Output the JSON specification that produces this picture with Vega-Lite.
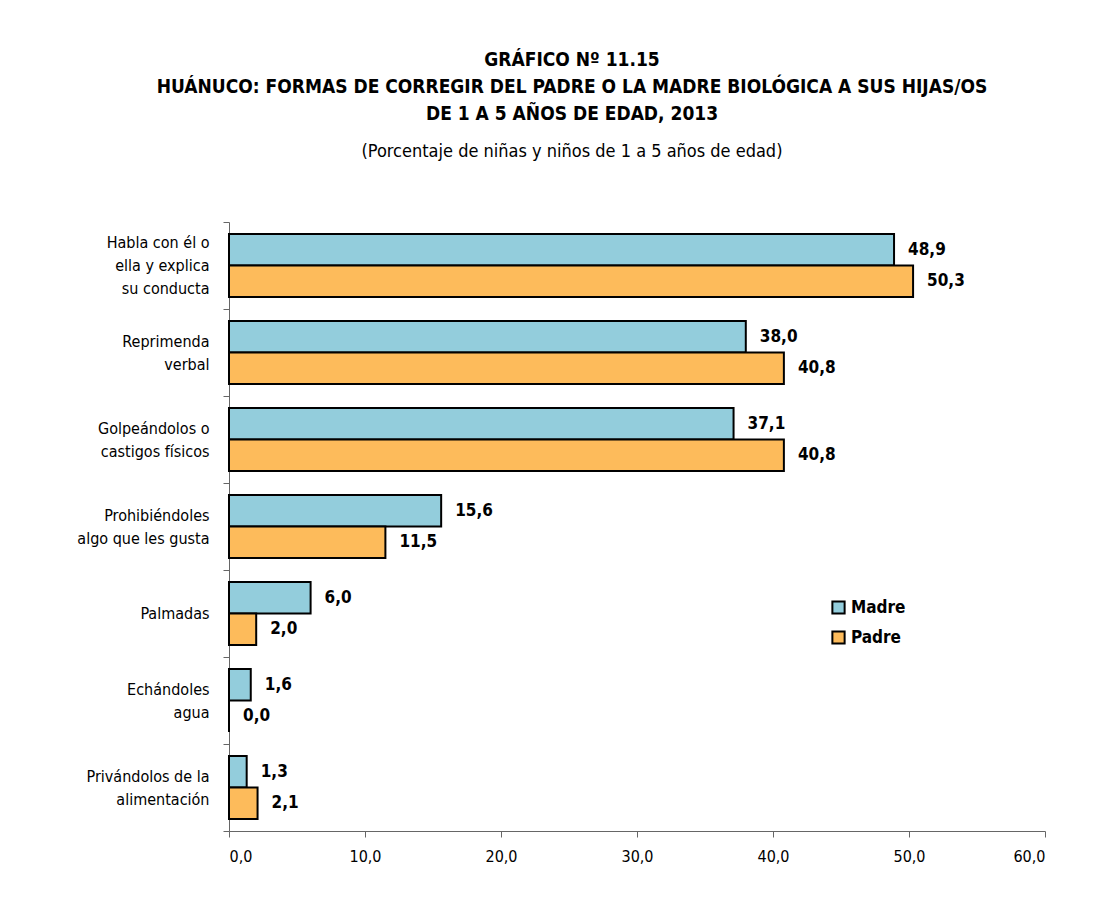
{
  "$schema": "https://vega.github.io/schema/vega-lite/v6.json",
  "width": 816,
  "height": 609,
  "autosize": {"type": "none"},
  "padding": {"left": 229, "top": 222, "right": 68, "bottom": 73},
  "background": "white",
  "title": {
    "text": ["GRÁFICO Nº 11.15", "HUÁNUCO: FORMAS DE CORREGIR DEL PADRE O LA MADRE BIOLÓGICA A SUS HIJAS/OS", "DE 1 A 5 AÑOS DE EDAD, 2013"],
    "subtitle": "(Porcentaje de niñas y niños de 1 a 5 años de edad)",
    "anchor": "middle",
    "dx": -65,
    "offset": 53,
    "font": "DejaVu Sans Condensed, sans-serif",
    "fontSize": 19,
    "fontWeight": "bold",
    "lineHeight": 27,
    "color": "black",
    "subtitleFont": "DejaVu Sans Condensed, sans-serif",
    "subtitleFontSize": 18,
    "subtitleColor": "black",
    "subtitlePadding": 19
  },
  "config": {
    "locale": {"number": {"decimal": ",", "thousands": ".", "grouping": [3], "currency": ["", ""]}},
    "view": {"stroke": null},
    "font": "DejaVu Sans Condensed, sans-serif"
  },
  "data": {
    "values": [
      {"forma": "Habla con él o\nella y explica\nsu conducta", "serie": "Madre", "valor": 48.9},
      {"forma": "Habla con él o\nella y explica\nsu conducta", "serie": "Padre", "valor": 50.3},
      {"forma": "Reprimenda\nverbal", "serie": "Madre", "valor": 38.0},
      {"forma": "Reprimenda\nverbal", "serie": "Padre", "valor": 40.8},
      {"forma": "Golpeándolos o\ncastigos físicos", "serie": "Madre", "valor": 37.1},
      {"forma": "Golpeándolos o\ncastigos físicos", "serie": "Padre", "valor": 40.8},
      {"forma": "Prohibiéndoles\nalgo que les gusta", "serie": "Madre", "valor": 15.6},
      {"forma": "Prohibiéndoles\nalgo que les gusta", "serie": "Padre", "valor": 11.5},
      {"forma": "Palmadas", "serie": "Madre", "valor": 6.0},
      {"forma": "Palmadas", "serie": "Padre", "valor": 2.0},
      {"forma": "Echándoles\nagua", "serie": "Madre", "valor": 1.6},
      {"forma": "Echándoles\nagua", "serie": "Padre", "valor": 0.0},
      {"forma": "Privándolos de la\nalimentación", "serie": "Madre", "valor": 1.3},
      {"forma": "Privándolos de la\nalimentación", "serie": "Padre", "valor": 2.1}
    ]
  },
  "encoding": {
    "y": {
      "field": "forma",
      "type": "nominal",
      "sort": null,
      "scale": {"paddingInner": 0, "paddingOuter": 0},
      "axis": {
        "title": null,
        "tickBand": "extent",
        "labelExpr": "isString(datum.value) ? split(datum.value, '\\n') : ''",
        "labelAlign": "right",
        "labelBaseline": "middle",
        "labelFontSize": 16,
        "labelLineHeight": 23,
        "labelPadding": 14,
        "labelOffset": {
          "condition": [
            {"test": "isString(datum.value) && length(split(datum.value, '\\n')) == 3", "value": -23},
            {"test": "isString(datum.value) && length(split(datum.value, '\\n')) == 2", "value": -11.5}
          ],
          "value": 0
        },
        "labelColor": "black",
        "tickSize": 6,
        "tickColor": "#666666",
        "domainColor": "#666666",
        "labelFont": "DejaVu Sans Condensed, sans-serif"
      }
    },
    "yOffset": {
      "field": "serie",
      "type": "nominal",
      "scale": {"paddingOuter": 0.38, "paddingInner": 0}
    },
    "x": {
      "field": "valor",
      "type": "quantitative",
      "scale": {"domain": [0, 60], "nice": false},
      "axis": {
        "title": null,
        "values": [0, 10, 20, 30, 40, 50, 60],
        "format": ".1f",
        "grid": false,
        "tickSize": 6,
        "tickColor": "#666666",
        "domainColor": "#666666",
        "labelFontSize": 16,
        "labelColor": "black",
        "labelPadding": 11,
        "labelFont": "DejaVu Sans Condensed, sans-serif"
      }
    }
  },
  "layer": [
    {
      "mark": {"type": "bar", "stroke": "black", "strokeWidth": 2},
      "encoding": {
        "color": {
          "field": "serie",
          "type": "nominal",
          "scale": {"domain": ["Madre", "Padre"], "range": ["#93CDDC", "#FDBB5B"]},
          "legend": {
            "title": null,
            "orient": "none",
            "legendX": 601,
            "legendY": 377,
            "symbolType": "square",
            "symbolSize": 150,
            "symbolStrokeColor": "black",
            "symbolStrokeWidth": 2,
            "symbolOpacity": 1,
            "labelFontSize": 17,
            "labelFontWeight": "bold",
            "labelColor": "black",
            "rowPadding": 9,
            "labelOffset": 4,
            "labelFont": "DejaVu Sans Condensed, sans-serif"
          }
        }
      }
    },
    {
      "mark": {"type": "text", "align": "left", "baseline": "middle", "dx": 14, "fontSize": 17, "fontWeight": "bold", "color": "black"},
      "encoding": {
        "text": {"field": "valor", "type": "quantitative", "format": ".1f"}
      }
    }
  ]
}
